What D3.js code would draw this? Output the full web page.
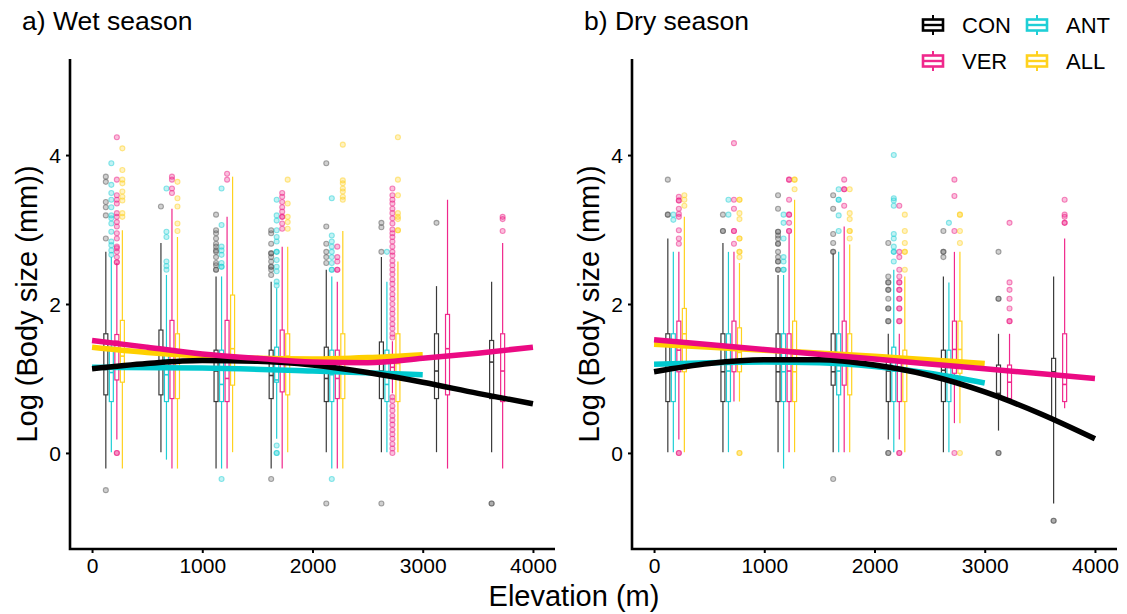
<!DOCTYPE html>
<html>
<head>
<meta charset="utf-8">
<script src="https://cdn.jsdelivr.net/npm/d3@7"></script>
<style>
  body { margin: 0; background: #fff; }
  svg { display: block; font-family: "Liberation Sans", Arial, sans-serif; }
</style>
</head>
<body>
<svg id="chart" width="1127" height="614"></svg>
<script>
// treatments and elevation bands
const treatments = ["CON", "ANT", "VER", "ALL"];
const xTicks = [0, 1000, 2000, 3000, 4000];
const yTicks = [0, 2, 4];

// box stats: elevation, treatment, lower whisker, q1, median, q3, upper whisker, outliers
const wetBoxes = [
  [200, "CON", -0.21, 0.78, 1.12, 1.60, 2.70, [3.71, 3.64, 3.37, 3.30, 3.19, 2.88, -0.50]],
  [200, "ANT", 0.01, 0.69, 1.08, 1.42, 2.63, [3.89, 3.60, 3.49, 3.40, 3.30, 3.19, 3.15, 3.08, 2.97, 2.84, 2.79, 2.72, 2.66]],
  [200, "VER", 0.18, 0.98, 1.50, 1.59, 2.55, [4.24, 3.67, 3.46, 3.40, 3.35, 3.22, 3.17, 3.10, 3.04, 2.95, 2.88, 2.77, 2.75, 2.70, 2.63, 2.56, 2.56, 0.0, 0.0]],
  [200, "ALL", -0.21, 0.95, 1.30, 1.78, 2.99, [4.09, 3.80, 3.67, 3.62, 3.51, 3.44, 3.39, 3.22, 3.17]],
  [700, "CON", 0.01, 0.78, 1.20, 1.65, 2.82, [3.31]],
  [700, "ANT", -0.09, 0.69, 1.05, 1.35, 2.39, [3.55, 2.97, 2.90, 2.57, 2.51, 2.46]],
  [700, "VER", -0.21, 0.73, 1.15, 1.78, 3.28, [3.71, 3.67, 3.55, 3.49]],
  [700, "ALL", -0.21, 0.73, 1.25, 1.60, 2.90, [3.64, 3.42, 3.31, 3.08, 2.98]],
  [1200, "CON", -0.21, 0.69, 1.10, 1.38, 2.37, [3.20, 2.99, 2.95, 2.88, 2.81, 2.77, 2.72, 2.70, 2.63, 2.55, 2.52, 2.46, 2.46]],
  [1200, "ANT", -0.21, 0.69, 0.92, 1.38, 2.37, [3.55, 3.06, 2.77, 2.72, 2.66, 2.55, 2.50, 2.50, -0.35]],
  [1200, "VER", -0.21, 0.69, 1.00, 1.78, 3.17, [3.75, 3.67]],
  [1200, "ALL", 0.01, 0.91, 1.40, 2.12, 3.71, []],
  [1700, "CON", -0.21, 0.73, 1.04, 1.38, 2.30, [2.99, 2.95, 2.81, 2.68, 2.68, 2.63, 2.57, 2.50, 2.50, 2.46, 2.39, -0.35]],
  [1700, "ANT", 0.19, 0.95, 0.98, 1.42, 2.21, [3.40, 3.19, 3.12, 2.99, 2.90, 2.84, 2.70, 2.70, 2.59, 2.50, 2.44, 2.30, 2.25, 0.10, 0.0, 0.0]],
  [1700, "VER", -0.21, 0.82, 1.20, 1.65, 2.77, [3.49, 3.44, 3.37, 3.30, 3.24, 3.17, 3.17, 3.08, 3.01]],
  [1700, "ALL", 0.01, 0.78, 1.30, 1.60, 2.77, [3.67, 3.35, 3.17, 3.10, 3.01]],
  [2200, "CON", 0.01, 0.69, 1.00, 1.42, 2.46, [3.89, 3.04, 2.81, 2.70, 2.63, 2.55, -0.68]],
  [2200, "ANT", -0.21, 0.69, 1.05, 1.38, 2.37, [3.42, 2.92, 2.84, 2.77, 2.70, 2.63, 2.55, 2.46, 2.46, -0.35]],
  [2200, "VER", -0.21, 0.73, 1.00, 1.38, 2.30, [2.77, 2.63, 2.57, 2.46, 2.46]],
  [2200, "ALL", -0.21, 0.73, 1.25, 1.60, 2.98, [4.14, 3.66, 3.62, 3.55, 3.51, 3.44, 3.40]],
  [2700, "CON", 0.01, 0.73, 1.10, 1.49, 2.63, [3.09, 3.03, 2.70, -0.68]],
  [2700, "ANT", 0.01, 0.69, 0.92, 1.38, 2.30, [2.70]],
  [2700, "VER", 0.80, 1.00, 1.15, 1.30, 1.50, [3.55, 3.46, 3.40, 3.35, 3.28, 3.22, 3.15, 3.08, 3.00, 2.95, 2.90, 2.84, 2.77, 2.70, 2.65, 2.58, 2.52, 2.46, 2.40, 2.33, 2.27, 2.20, 2.13, 2.07, 2.00, 1.93, 1.87, 1.80, 1.73, 1.67, 1.60, 1.55, 0.75, 0.70, 0.63, 0.57, 0.50, 0.44, 0.38, 0.31, 0.25, 0.19, 0.12, 0.06, 0.0]],
  [2700, "ALL", 0.01, 0.69, 1.20, 1.60, 2.57, [4.24, 3.67, 3.46, 3.22, 3.17, 3.14, 2.99, 2.99]],
  [3200, "CON", 0.01, 0.73, 1.10, 1.60, 2.24, [3.09]],
  [3200, "VER", -0.21, 0.78, 1.40, 1.86, 3.40, []],
  [3700, "CON", 0.01, 0.73, 1.22, 1.51, 2.30, [-0.68, -0.68]],
  [3700, "VER", -0.21, 0.69, 1.10, 1.60, 2.82, [3.17, 3.14, 2.98]]
];

const dryBoxes = [
  [200, "CON", 0.01, 0.69, 1.10, 1.60, 2.88, [3.67, 3.20, 3.20]],
  [200, "ANT", 0.01, 0.69, 1.15, 1.60, 2.70, [3.20, 3.13]],
  [200, "VER", 0.18, 1.09, 1.38, 1.77, 2.70, [3.44, 3.39, 3.39, 3.28, 3.21, 3.17, 2.99, 2.88, 2.81, 0.0, 0.0]],
  [200, "ALL", 0.01, 1.09, 1.60, 1.94, 3.17, [3.46, 3.40, 3.32]],
  [700, "CON", 0.01, 0.69, 1.09, 1.60, 2.82, [3.20, 2.98, 2.98]],
  [700, "ANT", 0.01, 0.69, 1.10, 1.60, 2.70, [3.40, 3.20]],
  [700, "VER", 0.69, 1.09, 1.40, 1.77, 2.70, [4.16, 3.40, 3.28, 2.98, 2.98, 2.81]],
  [700, "ALL", 0.69, 1.09, 1.35, 1.68, 2.55, [3.40, 3.40, 3.22, 3.14, 2.88, 2.88, 2.70, 2.70, 2.63, 0.0, 0.0]],
  [1200, "CON", 0.01, 0.69, 1.09, 1.60, 2.39, [3.46, 3.28, 2.97, 2.97, 2.92, 2.88, 2.81, 2.81, 2.70, 2.63, 2.57, 2.57, 2.46, 2.46]],
  [1200, "ANT", -0.21, 0.69, 1.09, 1.60, 2.39, [3.20, 3.09, 2.88, 2.63, 2.57, 2.46, 2.46]],
  [1200, "VER", 0.01, 0.69, 1.10, 1.60, 2.94, [3.67, 3.67, 3.40, 3.20, 3.20, 3.09, 2.98, 2.98]],
  [1200, "ALL", 0.01, 0.69, 1.09, 1.77, 3.40, [3.67, 3.67, 3.54]],
  [1700, "CON", 0.01, 0.91, 1.09, 1.60, 2.68, [3.46, 3.28, 2.94, 2.82, 2.70, 2.70, -0.35]],
  [1700, "ANT", 0.01, 0.78, 1.10, 1.60, 2.70, [3.54, 3.40, 3.40, 3.19, 2.98]],
  [1700, "VER", 0.01, 0.91, 1.30, 1.77, 3.04, [3.67, 3.54, 3.54, 3.32]],
  [1700, "ALL", 0.01, 0.78, 1.20, 1.60, 2.80, [3.54, 3.22, 3.14, 2.98, 2.98, 2.88]],
  [2200, "CON", 0.18, 0.69, 1.10, 1.25, 1.60, [2.82, 2.37, 2.29, 2.29, 2.19, 2.19, 2.07, 1.94, 1.94, 1.77, 1.77, 0.0, 0.0]],
  [2200, "ANT", 0.01, 0.69, 1.10, 1.42, 2.46, [4.00, 3.42, 3.39, 3.32, 2.94, 2.88, 2.77, 2.70, 2.70, 2.57]],
  [2200, "VER", 0.18, 0.69, 1.10, 1.29, 1.60, [3.32, 2.70, 2.63, 2.46, 2.37, 2.29, 2.29, 2.19, 2.19, 2.07, 2.07, 1.94, 1.94, 1.77, 1.77, 0.0, 0.0]],
  [2200, "ALL", 0.01, 0.69, 1.10, 1.38, 2.37, [3.20, 2.98, 2.82, 2.70, 2.70, 2.46]],
  [2700, "CON", 0.01, 0.69, 1.11, 1.38, 2.37, [2.98, 2.70, 2.70, 2.63]],
  [2700, "ANT", 0.01, 0.69, 1.05, 1.38, 2.29, [3.09]],
  [2700, "VER", 0.40, 1.07, 1.39, 1.77, 2.70, [3.67, 3.45, 2.98, 0.0]],
  [2700, "ALL", 0.40, 1.07, 1.39, 1.77, 2.70, [3.20, 3.20, 2.98, 2.82, 0.0]],
  [3200, "CON", 0.30, 0.78, 0.80, 1.18, 1.60, [2.70, 2.07, 2.07, 0.0, 0.0]],
  [3200, "VER", 0.73, 0.73, 0.95, 1.18, 1.60, [3.09, 2.29, 2.19, 2.07, 1.94, 1.77, 1.77]],
  [3700, "CON", -0.68, 0.44, 1.09, 1.27, 2.37, [-0.91, -0.91]],
  [3700, "VER", 0.60, 0.69, 0.92, 1.60, 2.88, [3.40, 3.20, 3.17, 3.09, 3.09]]
];

// fitted curves [elevation, log body size]
const wetFitCON = [[0, 1.13], [500, 1.20], [1000, 1.24], [1500, 1.23], [2000, 1.18], [2500, 1.08], [3000, 0.95], [3500, 0.80], [4000, 0.66]];
const wetFitANT = [[0, 1.15], [1000, 1.14], [2000, 1.10], [3000, 1.05]];
const wetFitVER = [[0, 1.51], [500, 1.42], [1000, 1.33], [1500, 1.27], [2000, 1.22], [2500, 1.21], [3000, 1.27], [3500, 1.34], [4000, 1.42]];
const wetFitALL = [[0, 1.42], [500, 1.35], [1000, 1.30], [1500, 1.27], [2000, 1.26], [2500, 1.28], [3000, 1.32]];

const dryFitCON = [[0, 1.09], [500, 1.20], [1000, 1.25], [1500, 1.25], [2000, 1.18], [2500, 1.04], [3000, 0.82], [3500, 0.53], [4000, 0.19]];
const dryFitANT = [[0, 1.19], [500, 1.21], [1000, 1.22], [1500, 1.21], [2000, 1.16], [2500, 1.07], [3000, 0.94]];
const dryFitVER = [[0, 1.52], [1000, 1.39], [2000, 1.26], [3000, 1.13], [4000, 1.00]];
const dryFitALL = [[0, 1.46], [1000, 1.38], [2000, 1.30], [3000, 1.20]];

const boxColor = {CON: "#3a3a3a", ANT: "#1fcfd6", VER: "#f0288c", ALL: "#ffd21f"};
const pointColor = {CON: "#555555", ANT: "#1fcfd6", VER: "#ee1b84", ALL: "#ffd21f"};
const lineColor = {CON: "#000000", ANT: "#00c9cf", VER: "#eb0a83", ALL: "#ffd000"};
const dodge = {CON: -75, ANT: -25, VER: 25, ALL: 75};

const svg = d3.select("#chart");
const font = "\"Liberation Sans\", Arial, sans-serif";

const y = d3.scaleLinear().domain([-1.29, 5.29]).range([549, 59]);

function panel(left, title, boxes, fits) {
  const x = d3.scaleLinear().domain([-200, 4200]).range([left, left + 485]);
  const g = svg.append("g");

  // boxplots
  boxes.forEach(([e, t, lo, q1, med, q3, hi, out]) => {
    const cx = x(e + dodge[t]);
    const bw = 4;
    const col = boxColor[t];
    const b = g.append("g");
    b.append("line").attr("x1", cx).attr("x2", cx).attr("y1", y(hi)).attr("y2", y(q3))
      .attr("stroke", col).attr("stroke-width", 1.2);
    b.append("line").attr("x1", cx).attr("x2", cx).attr("y1", y(q1)).attr("y2", y(lo))
      .attr("stroke", col).attr("stroke-width", 1.2);
    b.append("rect").attr("x", cx - bw / 2).attr("y", y(q3))
      .attr("width", bw).attr("height", Math.max(0.5, y(q1) - y(q3)))
      .attr("fill", "#fff").attr("stroke", col).attr("stroke-width", 1.2);
    b.append("line").attr("x1", cx - bw / 2).attr("x2", cx + bw / 2).attr("y1", y(med)).attr("y2", y(med))
      .attr("stroke", col).attr("stroke-width", 1.6);
    b.selectAll("circle").data(out).join("circle")
      .attr("cx", cx).attr("cy", d => y(d)).attr("r", 2.5)
      .attr("fill", pointColor[t]).attr("fill-opacity", 0.28)
      .attr("stroke", pointColor[t]).attr("stroke-opacity", 0.5).attr("stroke-width", 1.1);
  });

  // smooth fits
  const line = d3.line().x(d => x(d[0])).y(d => y(d[1])).curve(d3.curveMonotoneX);
  ["ANT", "ALL", "CON", "VER"].forEach(t => {
    g.append("path").datum(fits[t]).attr("d", line)
      .attr("fill", "none").attr("stroke", lineColor[t]).attr("stroke-width", 5.5);
  });

  // axes
  const ax = g.append("g").attr("transform", `translate(0,549)`)
    .call(d3.axisBottom(x).tickValues(xTicks).tickFormat(d3.format("d")).tickSize(4).tickPadding(5));
  const ay = g.append("g").attr("transform", `translate(${left},0)`)
    .call(d3.axisLeft(y).tickValues(yTicks).tickFormat(d3.format("d")).tickSize(4).tickPadding(5));
  [ax, ay].forEach(a => {
    a.select(".domain").remove();
    a.selectAll(".tick line").attr("stroke", "#000").attr("stroke-width", 2);
    a.selectAll(".tick text").attr("fill", "#000").style("font-size", "21px").style("font-family", font);
  });
  ay.selectAll(".tick text").attr("dy", "0.36em");
  g.append("path").attr("d", `M${left},59V549H${left + 485}`)
    .attr("fill", "none").attr("stroke", "#000").attr("stroke-width", 2.6);

  g.append("text").attr("x", left - 48).attr("y", 30).text(title)
    .style("font-size", "26.5px").style("font-family", font);
  g.append("text").attr("transform", `translate(${left - 43},304) rotate(-90)`)
    .attr("text-anchor", "middle").attr("dy", "0.35em").text("Log (Body size (mm))")
    .style("font-size", "29px").style("font-family", font);
}

panel(70, "a) Wet season", wetBoxes, {CON: wetFitCON, ANT: wetFitANT, VER: wetFitVER, ALL: wetFitALL});
panel(632, "b) Dry season", dryBoxes, {CON: dryFitCON, ANT: dryFitANT, VER: dryFitVER, ALL: dryFitALL});

svg.append("text").attr("x", 574).attr("y", 606).attr("text-anchor", "middle")
  .text("Elevation (m)").style("font-size", "29px").style("font-family", font);

// legend
const legendPos = [[933, 25], [1037, 25], [933, 61], [1037, 61]];
treatments.forEach((t, i) => {
  const [lx, ly] = legendPos[i];
  const col = t === "CON" ? "#000" : boxColor[t];
  const k = svg.append("g");
  k.append("line").attr("x1", lx).attr("x2", lx).attr("y1", ly - 10).attr("y2", ly + 10)
    .attr("stroke", col).attr("stroke-width", 2);
  k.append("rect").attr("x", lx - 10).attr("y", ly - 5.5).attr("width", 20).attr("height", 11)
    .attr("fill", "#fff").attr("stroke", col).attr("stroke-width", 2.6);
  k.append("line").attr("x1", lx - 10).attr("x2", lx + 10).attr("y1", ly).attr("y2", ly)
    .attr("stroke", col).attr("stroke-width", 2.4);
  k.append("text").attr("x", lx + 29).attr("y", ly + 8).text(t)
    .style("font-size", "22px").style("font-family", font);
});
</script>
</body>
</html>
